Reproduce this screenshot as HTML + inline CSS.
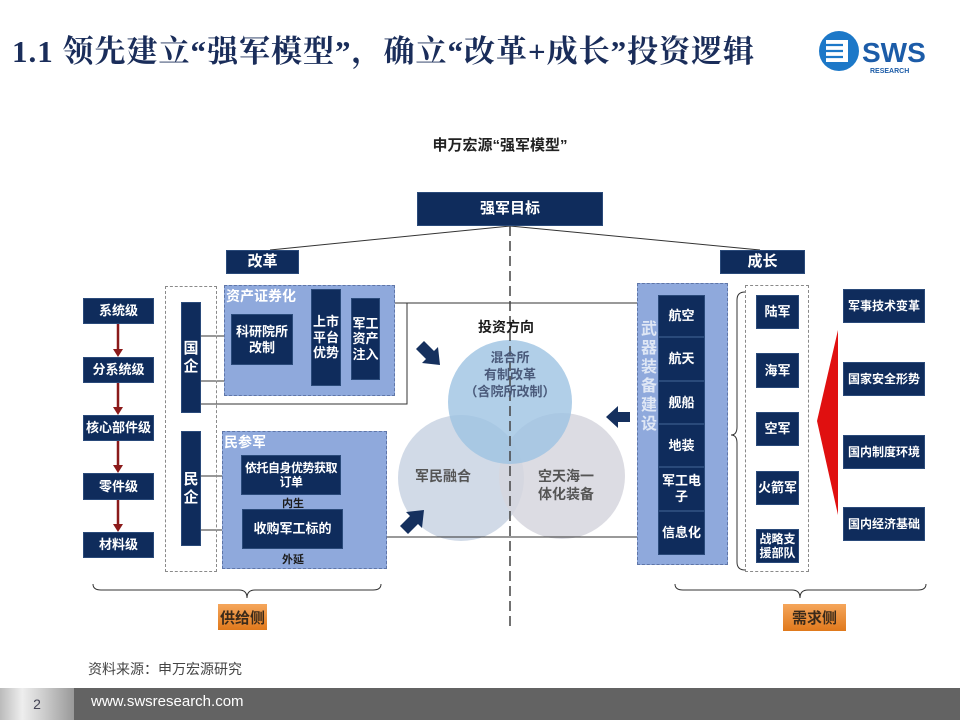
<!DOCTYPE html>
<html><head><meta charset="utf-8"><style>
*{margin:0;padding:0;box-sizing:border-box}
body{width:960px;height:720px;position:relative;background:#fff;overflow:hidden;font-family:"Liberation Sans","Noto Sans CJK SC",sans-serif}
.a{position:absolute}
.n{position:absolute;background:#0f2c5c;color:#fff;font-weight:bold;font-size:13px;display:flex;align-items:center;justify-content:center;text-align:center;line-height:1.2;border:1px solid #2a4a7a}
.lb{position:absolute;background:#8fa9dc;border:1.5px dashed #5f76a8}
.db{position:absolute;border:1.5px dashed #8a8a8a}
.t{position:absolute;font-weight:bold;color:#1b1b1b;font-size:12px}
.or{position:absolute;background:linear-gradient(#f5a65b,#e0791c);color:#3a2a1a;font-weight:bold;font-size:15px;display:flex;align-items:center;justify-content:center}
</style></head><body>
<div class="a" style="left:12px;top:26px;font-size:31px;font-weight:bold;color:#1a2d5a;font-family:'Liberation Serif','Noto Serif CJK SC',serif;white-space:nowrap;letter-spacing:1px">1.1 领先建立“强军模型”，确立“改革+成长”投资逻辑</div>
<svg class="a" style="left:818px;top:26px" width="130" height="52"><circle cx="21" cy="25" r="20" fill="#1c78c8"/><rect x="8" y="14" width="22" height="22" fill="#fff"/><g stroke="#1c78c8" stroke-width="2.2"><line x1="4" y1="19" x2="25" y2="19"/><line x1="4" y1="25" x2="25" y2="25"/><line x1="4" y1="31" x2="25" y2="31"/></g><text x="44" y="36" font-family="Liberation Sans" font-weight="bold" font-size="28" fill="#1c5ca8">SWS</text><text x="52" y="47" font-family="Liberation Sans" font-weight="bold" font-size="7" fill="#1c5ca8">RESEARCH</text></svg>
<div class="a" style="left:400px;top:134px;width:200px;text-align:center;font-weight:bold;font-size:15px;color:#222">申万宏源“强军模型”</div>

<svg class="a" style="left:0;top:0" width="960" height="720">
<circle cx="461" cy="478" r="63" fill="#c9d4e3" opacity="0.85"/>
<circle cx="562" cy="476" r="63" fill="#d6d6de" opacity="0.85"/>
<circle cx="510" cy="402" r="62" fill="#9dc3e2" opacity="0.8"/>
<g stroke="#333" stroke-width="1" fill="none">
<line x1="510" y1="226" x2="270" y2="250"/><line x1="510" y1="226" x2="760" y2="250"/>
<polyline points="201,336 231,336"/><polyline points="201,381 311,381"/>
<polyline points="201,404 407,404 407,303 380,303"/><line x1="407" y1="303" x2="637" y2="303"/>
<polyline points="200,476 241,476"/><polyline points="200,530 242,530"/>
<polyline points="341,474 353,474 353,537"/><line x1="343" y1="537" x2="637" y2="537"/>
<path d="M93,584 q0,6 8,6 h138 q8,0 8,8 q0,-8 8,-8 h118 q8,0 8,-6"/>
<path d="M675,584 q0,6 8,6 h109 q8,0 8,8 q0,-8 8,-8 h110 q8,0 8,-6"/>
<path d="M745,292 q-8,0 -8,8 v127 q0,8 -6,8 q6,0 6,8 v119 q0,8 8,8"/>
</g>
<line x1="510" y1="226" x2="510" y2="627" stroke="#444" stroke-width="1.5" stroke-dasharray="10,5"/>
<g stroke="#8b1a1a" stroke-width="2.5"><line x1="118" y1="324" x2="118" y2="352"/><line x1="118" y1="383" x2="118" y2="410"/><line x1="118" y1="441" x2="118" y2="468"/><line x1="118" y1="500" x2="118" y2="527"/></g>
<g fill="#8b1a1a"><polygon points="113,349 123,349 118,357"/><polygon points="113,407 123,407 118,415"/><polygon points="113,465 123,465 118,473"/><polygon points="113,524 123,524 118,532"/></g>
<polygon points="838,330 817,421 838,515" fill="#e01010"/>
<g fill="#15305e">
<polygon points="416,349 424,341 434,351 438,347 440,365 422,363 426,359"/>
<polygon points="400,526 408,534 418,524 422,528 424,510 406,512 410,516"/>
<polygon points="630,412 618,412 618,406 606,417 618,428 618,422 630,422"/>
</g>
</svg>

<div class="n" style="left:417px;top:192px;width:186px;height:34px;font-size:15px">强军目标</div>
<div class="n" style="left:226px;top:250px;width:73px;height:24px;font-size:15px">改革</div>
<div class="n" style="left:720px;top:250px;width:85px;height:24px;font-size:15px">成长</div>

<div class="n" style="left:83px;top:298px;width:71px;height:26px">系统级</div>
<div class="n" style="left:83px;top:357px;width:71px;height:26px">分系统级</div>
<div class="n" style="left:83px;top:415px;width:71px;height:26px">核心部件级</div>
<div class="n" style="left:83px;top:473px;width:71px;height:27px">零件级</div>
<div class="n" style="left:83px;top:532px;width:71px;height:26px">材料级</div>

<div class="db" style="left:165px;top:286px;width:52px;height:286px"></div>
<div class="n" style="left:181px;top:302px;width:20px;height:111px;font-size:15px">国<br>企</div>
<div class="n" style="left:181px;top:431px;width:20px;height:115px;font-size:15px">民<br>企</div>

<div class="lb" style="left:224px;top:285px;width:171px;height:111px"></div>
<div class="a" style="left:226px;top:286px;color:#fff;font-weight:bold;font-size:14px">资产证券化</div>
<div class="n" style="left:231px;top:314px;width:62px;height:51px">科研院所<br>改制</div>
<div class="n" style="left:311px;top:289px;width:30px;height:97px">上市<br>平台<br>优势</div>
<div class="n" style="left:351px;top:298px;width:29px;height:82px">军工<br>资产<br>注入</div>

<div class="lb" style="left:222px;top:431px;width:165px;height:138px"></div>
<div class="a" style="left:224px;top:432px;color:#fff;font-weight:bold;font-size:14px">民参军</div>
<div class="n" style="left:241px;top:455px;width:100px;height:40px;font-size:12px;letter-spacing:-0.5px;white-space:nowrap">依托自身优势获取<br>订单</div>
<div class="t" style="left:282px;top:495px;font-size:11px">内生</div>
<div class="n" style="left:242px;top:509px;width:101px;height:40px">收购军工标的</div>
<div class="t" style="left:282px;top:551px;font-size:11px">外延</div>

<div class="t" style="left:478px;top:317px;font-size:14px">投资方向</div>
<div class="a" style="left:450px;top:350px;width:120px;text-align:center;font-weight:bold;font-size:13px;color:#4a5a7a;line-height:1.3">混合所<br>有制改革<br>（含院所改制）</div>
<div class="a" style="left:415px;top:466px;font-weight:bold;font-size:14px;color:#555">军民融合</div>
<div class="a" style="left:538px;top:467px;font-weight:bold;font-size:14px;color:#555;line-height:1.3">空天海一<br>体化装备</div>

<div class="lb" style="left:637px;top:283px;width:91px;height:282px"></div>
<div class="a" style="left:641px;top:320px;width:18px;color:#dfe7f5;font-weight:bold;font-size:16px;line-height:19px">武器装备建设</div>
<div class="n" style="left:658px;top:295px;width:47px;height:42px">航空</div>
<div class="n" style="left:658px;top:337px;width:47px;height:44px">航天</div>
<div class="n" style="left:658px;top:381px;width:47px;height:43px">舰船</div>
<div class="n" style="left:658px;top:424px;width:47px;height:43px">地装</div>
<div class="n" style="left:658px;top:467px;width:47px;height:44px">军工电<br>子</div>
<div class="n" style="left:658px;top:511px;width:47px;height:44px">信息化</div>

<div class="db" style="left:745px;top:285px;width:64px;height:287px"></div>
<div class="n" style="left:756px;top:295px;width:43px;height:34px">陆军</div>
<div class="n" style="left:756px;top:353px;width:43px;height:35px">海军</div>
<div class="n" style="left:756px;top:412px;width:43px;height:34px">空军</div>
<div class="n" style="left:756px;top:471px;width:43px;height:34px">火箭军</div>
<div class="n" style="left:756px;top:529px;width:43px;height:34px;font-size:12px">战略支<br>援部队</div>

<div class="n" style="left:843px;top:289px;width:82px;height:34px;font-size:12px">军事技术变革</div>
<div class="n" style="left:843px;top:362px;width:82px;height:34px;font-size:12px">国家安全形势</div>
<div class="n" style="left:843px;top:435px;width:82px;height:34px;font-size:12px">国内制度环境</div>
<div class="n" style="left:843px;top:507px;width:82px;height:34px;font-size:12px">国内经济基础</div>

<div class="or" style="left:218px;top:604px;width:49px;height:26px">供给侧</div>
<div class="or" style="left:783px;top:604px;width:63px;height:27px">需求侧</div>

<div class="a" style="left:88px;top:659px;font-size:14px;color:#444">资料来源：申万宏源研究</div>
<div class="a" style="left:0;top:688px;width:960px;height:32px;background:#636363"></div>
<div class="a" style="left:0;top:688px;width:74px;height:32px;background:linear-gradient(90deg,#bbb,#eee 30%,#ccc 60%,#999);color:#445;font-size:14px;display:flex;align-items:center;justify-content:center">2</div>
<div class="a" style="left:91px;top:693px;color:#fff;font-size:15px">www.swsresearch.com</div>
</body></html>
